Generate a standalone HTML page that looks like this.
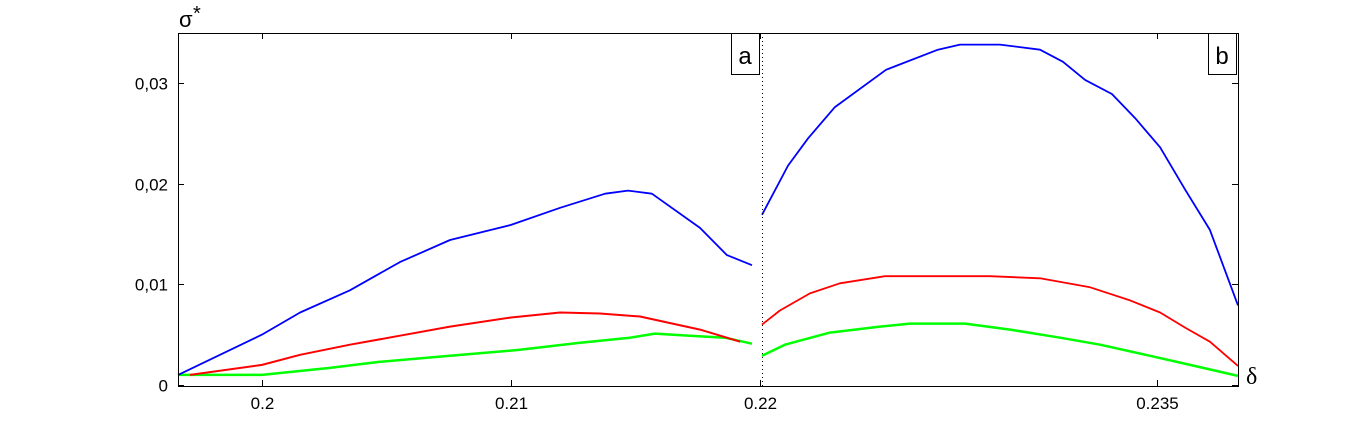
<!DOCTYPE html>
<html><head><meta charset="utf-8"><style>
body{margin:0;background:#fff;}
svg{display:block;font-family:"Liberation Sans",sans-serif;}
</style></head><body>
<svg id="chart" width="1367" height="434">
<rect x="0" y="0" width="1367" height="434" fill="#fff"/>
<g id="marks"></g>
<g id="axes"></g>
</svg>
<script>
const leftBlueX=[0.19663,0.2,0.20153,0.20353,0.20554,0.20755,0.21,0.21197,0.21378,0.2147,0.21566,0.21759,0.21867,0.21968];
const leftBlueY=[1.0,5.0,7.2,9.4,12.2,14.4,15.9,17.6,19.0,19.3,19.0,15.6,12.9,11.9];
const leftRedX=[0.19711,0.2,0.20153,0.20353,0.20554,0.20755,0.21,0.21197,0.21357,0.21518,0.21759,0.2192];
const leftRedY=[1.0,2.0,3.0,4.0,4.9,5.8,6.7,7.2,7.1,6.8,5.5,4.3];
const leftGreenX=[0.19663,0.2,0.20273,0.20474,0.20755,0.21036,0.21277,0.21478,0.21578,0.21719,0.2186,0.21968];
const leftGreenY=[1.0,1.0,1.7,2.3,2.9,3.5,4.2,4.7,5.1,4.9,4.7,4.1];
const rightBlueX=[0.22,0.22099,0.22175,0.22277,0.22471,0.22668,0.22752,0.22904,0.23056,0.23143,0.23227,0.23329,0.23417,0.23512,0.23607,0.23701,0.23758,0.23808];
const rightBlueY=[16.9,21.8,24.5,27.6,31.3,33.3,33.8,33.8,33.3,32.1,30.3,28.9,26.5,23.6,19.4,15.4,11.4,7.9];
const rightRedX=[0.22,0.22068,0.22182,0.22296,0.22467,0.22866,0.23056,0.23246,0.23398,0.23512,0.23607,0.23701,0.23808];
const rightRedY=[6.0,7.4,9.1,10.1,10.8,10.8,10.6,9.7,8.4,7.2,5.7,4.3,1.9];
const rightGreenX=[0.22,0.22087,0.22258,0.22448,0.22562,0.22771,0.22942,0.23132,0.23284,0.23474,0.23626,0.23808];
const rightGreenY=[2.9,4.0,5.2,5.8,6.1,6.1,5.5,4.7,4.0,2.9,2.0,0.9];
const yTicks=[0,0.01,0.02,0.03];
const yTickLabels=["0","0,01","0,02","0,03"];
const xTicksLeft=[0.2,0.21,0.22];
const xTickLabelsLeft=["0.2","0.21","0.22"];
const xTicksRight=[0.235];
const xTickLabelsRight=["0.235"];

const NS="http://www.w3.org/2000/svg";
const L=178,R=1238,T=33,B=386,MID=762;
function xl(d){return 262+(d-0.2)*24900;}
function xr(d){return MID+(d-0.22)*26330;}
function y(v){return 385-v*10070;}
function mk(tag,attrs,parent){const e=document.createElementNS(NS,tag);for(const k in attrs)e.setAttribute(k,attrs[k]);parent.appendChild(e);return e;}
const marks=document.getElementById('marks'),axes=document.getElementById('axes');
function line(xs,ys,fx,color,w,name){
  const pts=xs.map((d,i)=>fx(d).toFixed(1)+","+y(ys[i]/1000).toFixed(1)).join(" ");
  const p=mk('polyline',{points:pts,fill:'none',stroke:color,'stroke-width':w,'stroke-linejoin':'round'},marks);
  
  
}
line(leftGreenX,leftGreenY,xl,'#00ff00',2.5,'line-green-a');
line(leftRedX,leftRedY,xl,'#ff0000',2,'line-red-a');
line(leftBlueX,leftBlueY,xl,'#0000ff',1.8,'line-blue-a');
line(rightGreenX,rightGreenY,xr,'#00ff00',2.5,'line-green-b');
line(rightRedX,rightRedY,xr,'#ff0000',1.8,'line-red-b');
line(rightBlueX,rightBlueY,xr,'#0000ff',1.8,'line-blue-b');

const box=mk('rect',{x:L+0.5,y:T+0.5,width:R-L,height:B-T,fill:'none',stroke:'#000','stroke-width':1},axes);


const dv=mk('line',{x1:MID+0.5,y1:T,x2:MID+0.5,y2:B,stroke:'#000','stroke-dasharray':'1,3','stroke-width':1},axes);


yTicks.forEach((v,i)=>{
  const py=Math.round(y(v))+0.5;
  mk('line',{x1:L,y1:py,x2:L+6,y2:py,stroke:'#000'},axes);
  mk('line',{x1:R-6,y1:py,x2:R,y2:py,stroke:'#000'},axes);
  const t=mk('text',{x:168,y:py+6,'text-anchor':'end','font-size':17},axes);
  t.textContent=yTickLabels[i];
  
  
});
function xt(vals,labs,fx){
  vals.forEach((v,i)=>{
    const px=Math.round(fx(v))+0.5;
    mk('line',{x1:px,y1:B,x2:px,y2:B-6,stroke:'#000'},axes);
    mk('line',{x1:px,y1:T,x2:px,y2:T+6,stroke:'#000'},axes);
    const t=mk('text',{x:px,y:409,'text-anchor':'middle','font-size':17},axes);
    t.textContent=labs[i];
    
    
  });
}
xt(xTicksLeft,xTickLabelsLeft,xl);
xt(xTicksRight,xTickLabelsRight,xr);
function panelLabel(x0,txt,name){
  const g=mk('g',{},axes);
  
  
  mk('rect',{x:x0+0.5,y:T+0.5,width:28,height:41,fill:'#fff',stroke:'#000'},g);
  const t=mk('text',{x:x0+14,y:T+31,'text-anchor':'middle','font-size':24},g);
  t.textContent=txt;
}
panelLabel(731,'a','panel-label-a');
panelLabel(1208,'b','panel-label-b');
const yl=mk('text',{x:179,y:27,'font-size':22},axes);
yl.textContent='σ';


const ys=mk('text',{x:193,y:20,'font-size':20},axes);
ys.textContent='*';


const xlab=mk('text',{x:1246,y:384,'font-size':24,'font-family':'Liberation Serif, serif'},axes);
xlab.textContent='δ';


</script>
</body></html>
